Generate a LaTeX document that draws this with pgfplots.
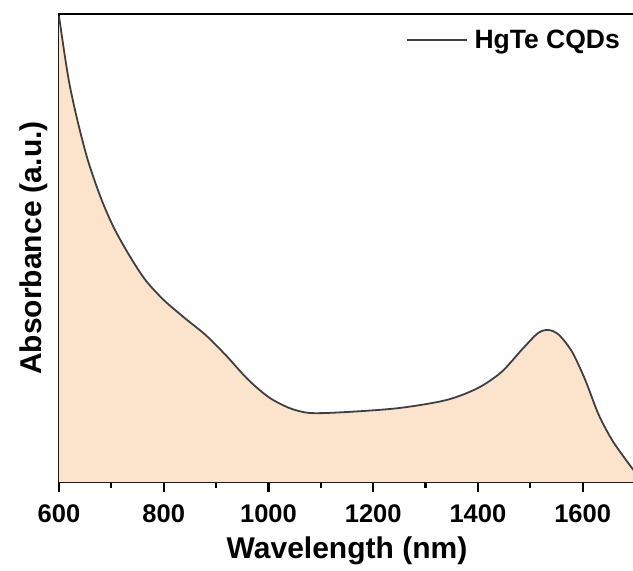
\documentclass[border=0pt]{standalone}
\usepackage{fontspec}
\setmainfont{Liberation Sans}
\usepackage{pgfplots}
\pgfplotsset{compat=1.18}
\definecolor{peach}{RGB}{252,228,204}
\definecolor{curve}{RGB}{64,64,64}
\pgfplotstableread{
x y
600 466
610 430
620 398
635 362
655 322
680 284
705 254
735 226
765 202
800 182
840 164
880 147
920 126
960 103
1000 85
1040 74
1080 69
1150 70
1250 74
1340 82
1400 94
1445 110
1485 133
1515 149
1535 152
1555 147
1580 130
1605 102
1630 68
1655 43
1680 24
1700 10
}\datatable
\begin{document}
\begin{tikzpicture}
\begin{axis}[
  name=ax,
  scale only axis,
  width=576pt, height=468pt,
  xmin=600, xmax=1700, ymin=0, ymax=468,
  axis line style={line width=2.8pt},
  xtick={600,800,1000,1200,1400,1600},
  minor xtick={700,900,1100,1300,1500,1700},
  xtick pos=bottom,
  tick align=outside,
  major tick length=10pt,
  minor tick length=6pt,
  every tick/.style={line width=2.2pt, black},
  ytick=\empty,
  tick label style={font=\fontsize{25.5}{30}\selectfont\bfseries},
  xticklabel style={yshift=-9pt},
  /pgf/number format/assume math mode=true,
  /pgf/number format/1000 sep={},
  xlabel={Wavelength (nm)},
  ylabel={Absorbance (a.u.)},
  label style={font=\fontsize{30}{36}\selectfont\bfseries},
  xlabel style={yshift=-7pt},
  ylabel style={at={(axis description cs:-0.014,0.5)}, anchor=south},
  legend style={draw=none, fill=none, font=\fontsize{26.5}{32}\selectfont\bfseries,
    at={(axis description cs:1,1)}, anchor=north east, xshift=-10pt, yshift=-12pt},
  legend cell align=left,
  legend image code/.code={\draw[curve, line width=2pt] (0pt,0pt) -- (60pt,0pt); \path (65pt,0pt);},
]
\addplot[fill=peach, draw=none, forget plot, smooth] table[x=x,y=y] {\datatable} \closedcycle;
\addplot[curve, line width=1.8pt, smooth] table[x=x,y=y] {\datatable};
\addlegendentry{HgTe CQDs}
\end{axis}
\pgfresetboundingbox
\path[use as bounding box] ([xshift=-59pt,yshift=-88pt]ax.south west) rectangle ([xshift=-2pt,yshift=14pt]ax.north east);
\end{tikzpicture}
\end{document}
